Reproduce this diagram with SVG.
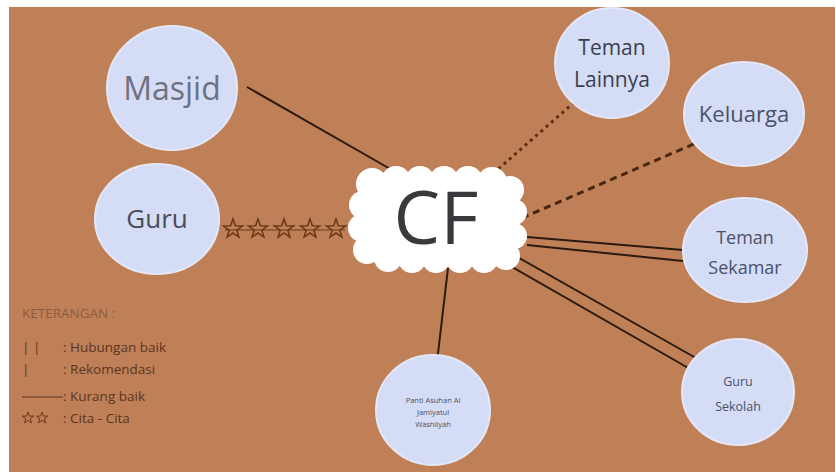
<svg xmlns="http://www.w3.org/2000/svg" xmlns:xlink="http://www.w3.org/1999/xlink" width="836" height="472" viewBox="0 0 836 472">
<style>
.node{fill:#d5dcf6;stroke:#e4e7f7;stroke-width:2}
.t{font-family:"Open Sans","Noto Sans",sans-serif;text-anchor:middle}
.solid{stroke:#2a1a10;stroke-width:2;fill:none}
.dot{stroke:#5a2e12;stroke-width:3;stroke-dasharray:3 4;fill:none}
.dash{stroke:#4a2610;stroke-width:3;stroke-dasharray:7 5;fill:none}
.lg{font-family:"Open Sans","Noto Sans",sans-serif;font-size:13.5px;fill:#5a3520}
.star{fill:none;stroke:#6b3a18;stroke-width:1.6}
</style>
<defs>
<polygon id="star" points="0,-10 2.35,-3.2 9.5,-3.1 3.8,1.2 5.9,8.1 0,4 -5.9,8.1 -3.8,1.2 -9.5,-3.1 -2.35,-3.2"/>
<polygon id="starS" points="0,-6 1.4,-1.9 5.7,-1.9 2.3,0.7 3.5,4.9 0,2.4 -3.5,4.9 -2.3,0.7 -5.7,-1.9 -1.4,-1.9"/>
</defs>
<rect x="0" y="0" width="836" height="472" fill="#ffffff"/>
<rect x="9" y="7" width="826" height="466" fill="#c08057"/>

<g id="connectors">
<line class="solid" x1="247" y1="87" x2="392" y2="170"/>
<line class="dot" x1="488" y1="178" x2="578" y2="99"/>
<line class="dash" x1="522" y1="218" x2="703" y2="140"/>
<line class="solid" x1="527" y1="237" x2="683" y2="250"/>
<line class="solid" x1="527" y1="245" x2="683" y2="261"/>
<line class="solid" x1="512" y1="254" x2="703" y2="362"/>
<line class="solid" x1="507" y1="264" x2="697" y2="373"/>
<line class="solid" x1="448" y1="268" x2="437" y2="362"/>
<g id="stars" class="star">
<line x1="225" y1="230" x2="345" y2="230" stroke="#6b3a18" stroke-width="1"/>
<use xlink:href="#star" x="233" y="229"/>
<use xlink:href="#star" x="258" y="229"/>
<use xlink:href="#star" x="284" y="229"/>
<use xlink:href="#star" x="310" y="229"/>
<use xlink:href="#star" x="336" y="229"/>
</g>
</g>

<g id="masjid">
<ellipse class="node" cx="172" cy="88" rx="65" ry="62"/>
<text class="t" x="172" y="100" font-size="32" fill="#6e7280">Masjid</text>
</g>
<g id="guru">
<ellipse class="node" cx="157" cy="219" rx="62" ry="55"/>
<text class="t" x="157" y="228" font-size="26" fill="#4a4d58">Guru</text>
</g>
<g id="teman-lainnya">
<ellipse class="node" cx="612" cy="63" rx="57" ry="55"/>
<text class="t" x="612" y="55" font-size="21" fill="#3a3f50">Teman</text>
<text class="t" x="612" y="87" font-size="21" fill="#3a3f50">Lainnya</text>
</g>
<g id="keluarga">
<ellipse class="node" cx="744" cy="114" rx="60" ry="52"/>
<text class="t" x="744" y="122" font-size="22" fill="#4a5268">Keluarga</text>
</g>
<g id="teman-sekamar">
<ellipse class="node" cx="745" cy="250" rx="62" ry="52"/>
<text class="t" x="745" y="244" font-size="18" fill="#4a5268">Teman</text>
<text class="t" x="745" y="274" font-size="18" fill="#4a5268">Sekamar</text>
</g>
<g id="guru-sekolah">
<ellipse class="node" cx="738" cy="392" rx="56" ry="53"/>
<text class="t" x="738" y="386" font-size="12.5" fill="#4a5268">Guru</text>
<text class="t" x="738" y="411" font-size="12.5" fill="#4a5268">Sekolah</text>
</g>
<g id="panti">
<ellipse class="node" cx="433" cy="410" rx="57" ry="55"/>
<text class="t" x="433" y="403" font-size="7.5" fill="#4a5268">Panti Asuhan Al</text>
<text class="t" x="433" y="415" font-size="7.5" fill="#4a5268">Jamiyatul</text>
<text class="t" x="433" y="427" font-size="7.5" fill="#4a5268">Washliyah</text>
</g>
<g id="cf">
<g fill="#ffffff" stroke="none">
<rect x="362" y="180" width="152" height="80"/>
<circle cx="372" cy="184" r="16"/>
<circle cx="396" cy="181" r="15"/>
<circle cx="420" cy="181" r="15"/>
<circle cx="444" cy="181" r="15"/>
<circle cx="468" cy="181" r="15"/>
<circle cx="492" cy="182" r="15"/>
<circle cx="510" cy="190" r="14"/>
<circle cx="514" cy="212" r="13"/>
<circle cx="514" cy="236" r="13"/>
<circle cx="506" cy="256" r="14"/>
<circle cx="484" cy="259" r="14"/>
<circle cx="460" cy="259" r="14"/>
<circle cx="436" cy="259" r="14"/>
<circle cx="412" cy="259" r="14"/>
<circle cx="388" cy="258" r="14"/>
<circle cx="367" cy="250" r="14"/>
<circle cx="362" cy="228" r="14"/>
<circle cx="363" cy="205" r="14"/>
</g>
<text class="t" x="436" y="244" font-size="74" fill="#3a3a3e">CF</text>
</g>

<g id="legend">
<text class="lg" x="22" y="318" style="fill:#8c5c40">KETERANGAN :</text>
<text class="lg" x="22" y="352">| |</text>
<text class="lg" x="63" y="352">: Hubungan baik</text>
<text class="lg" x="22" y="374">|</text>
<text class="lg" x="63" y="374">: Rekomendasi</text>
<line x1="22" y1="397" x2="63" y2="397" stroke="#5a3520" stroke-width="1.2"/>
<text class="lg" x="63" y="401">: Kurang baik</text>
<use xlink:href="#starS" x="28" y="418" class="star" style="stroke-width:1"/>
<use xlink:href="#starS" x="42" y="418" class="star" style="stroke-width:1"/>
<text class="lg" x="63" y="423">: Cita - Cita</text>
</g>
</svg>
